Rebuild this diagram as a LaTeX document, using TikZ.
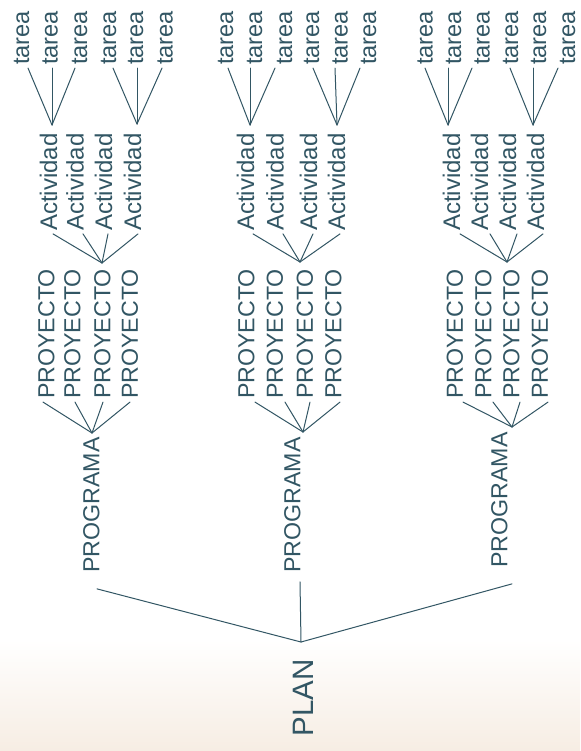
\documentclass[tikz,border=0pt]{standalone}
\usepackage{fontspec}
\setmainfont{Liberation Sans}
\definecolor{ink}{RGB}{50,86,100}
\definecolor{paper}{RGB}{246,237,227}
\begin{document}
\begin{tikzpicture}[x=1pt,y=-1pt,
  lbl/.style={rotate=90, inner xsep=3pt, inner ysep=1pt, text=ink},
  tlbl/.style={lbl, font=\fontsize{23.6}{28}\selectfont},
  albl/.style={lbl, font=\fontsize{24}{28}\selectfont},
  plbl/.style={lbl, font=\fontsize{23.2}{28}\selectfont},
  glbl/.style={lbl, font=\fontsize{23.2}{28}\selectfont},
  planlbl/.style={lbl, font=\fontsize{29.5}{34}\selectfont},
  conn/.style={draw=ink, line width=1pt, line cap=round, line join=round}]
\useasboundingbox (0,0) rectangle (580,751);
\fill[white] (0,0) rectangle (580,751);
\shade[top color=white, bottom color=paper] (0,640) rectangle (580,751);

% tareas
\foreach \n/\x in {11/21.5,12/50,13/79.5,14/108.5,15/135.5,16/165,
                   21/225.5,22/254.5,23/284.5,24/311.5,25/340,26/368.5,
                   31/425,32/453.5,33/482,34/510.5,35/538.5,36/567.5}
  \node[tlbl] (t\n) at (\x,38) {tarea};
% actividades
\foreach \n/\x in {11/48.5,12/75,13/103.5,14/132.5,
                   21/245.5,22/275,23/308.5,24/336.5,
                   31/451.5,32/479.5,33/507.5,34/535.5}
  \node[albl] (a\n) at (\x,182) {Actividad};
% proyectos
\foreach \n/\x in {11/46.5,12/72.5,13/102.5,14/130,
                   21/246.5,22/275,23/305,24/333.5,
                   31/455,32/483.5,33/511.5,34/540}
  \node[plbl] (p\n) at (\x,334) {PROYECTO};
% programas
\node[glbl] (g1) at (91.5,505) {PROGRAMA};
\node[glbl] (g2) at (292.5,505) {PROGRAMA};
\node[glbl] (g3) at (499.5,500) {PROGRAMA};
% plan
\node[planlbl] (plan) at (303,698) {PLAN};

% junctions
\coordinate (jt11) at (52,125);  \coordinate (jt12) at (137,124);
\coordinate (jt21) at (250,125); \coordinate (jt22) at (337,125);
\coordinate (jt31) at (448,125); \coordinate (jt32) at (533,125);
\coordinate (ja1) at (102,263);  \coordinate (ja2) at (300,262); \coordinate (ja3) at (507,262);
\coordinate (jp1) at (92,433);   \coordinate (jp2) at (303,432); \coordinate (jp3) at (512,427);
\coordinate (jplan) at (301,642);

% actividad -> tareas
\foreach \j/\n/\dx in {11/11/6.5,11/12/2,11/13/-4.5,12/14/4.5,12/15/1.5,12/16/-3,
                       21/21/2.5,21/22/-4.5,21/23/-9.5,22/24/1.5,22/25/-5,22/26/-8.5,
                       31/31/0,31/32/-5.5,31/33/-10,32/34/-0.5,32/35/-5.5,32/36/-9.5}
  \draw[conn] (jt\j) -- ([xshift=\dx pt]t\n.west);
% proyecto -> actividades
\foreach \j/\n/\dx in {1/11/4.5,1/12/8,1/13/4.5,1/14/5.5,
                       2/21/7.5,2/22/8,2/23/4.5,2/24/3.5,
                       3/31/8.5,3/32/10.5,3/33/9.5,3/34/7.5}
  \draw[conn] (ja\j) -- ([xshift=\dx pt]a\n.west);
% programa -> proyectos
\foreach \j/\n/\dx in {1/11/-3.5,1/12/2.5,1/13/0.5,1/14/0,
                       2/21/8.5,2/22/10,2/23/5,2/24/6.5,
                       3/31/8,3/32/9.5,3/33/8.5,3/34/8}
  \draw[conn] (jp\j) -- ([xshift=\dx pt]p\n.west);
% plan -> programas
\draw[conn] (jplan) -- ([xshift=5.5pt,yshift=-13pt]g1.west);
\draw[conn] (jplan) -- ([xshift=7.5pt,yshift=-6pt]g2.west);
\draw[conn] (jplan) -- ([xshift=12.5pt,yshift=-13pt]g3.west);
\end{tikzpicture}
\end{document}
